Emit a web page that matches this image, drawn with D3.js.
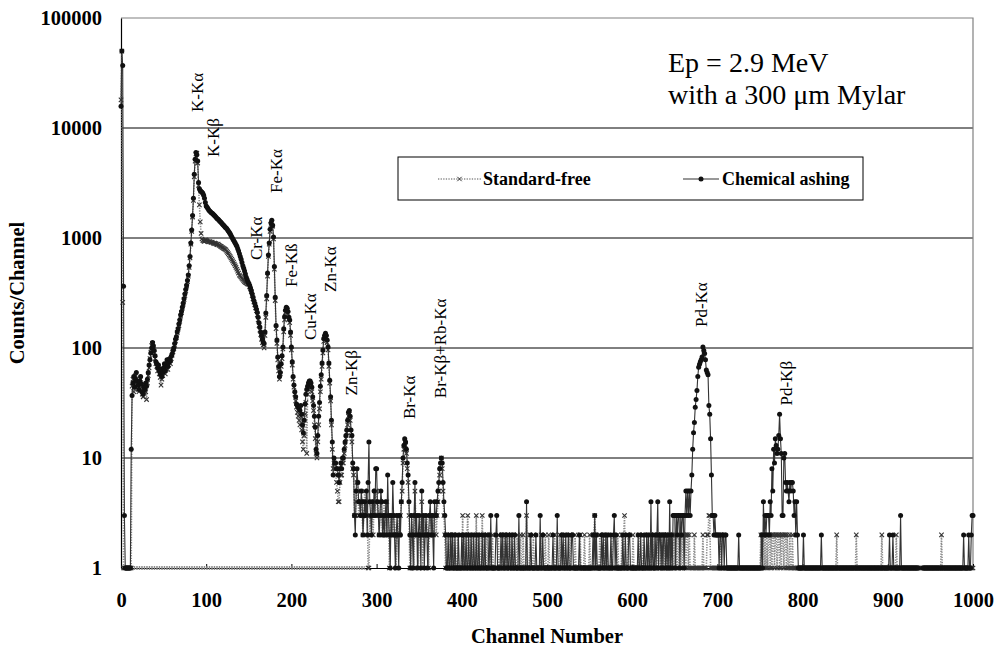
<!DOCTYPE html>
<html>
<head>
<meta charset="utf-8">
<script src="https://cdn.jsdelivr.net/npm/d3@7"></script>
<style>
  body { margin: 0; background: #fff; }
  svg, text { font-family: "Liberation Serif", "Times New Roman", serif; fill: #000; }
</style>
</head>
<body>
<div id="chart"></div>
<script>
// counts per channel, index = channel number (0 = not plotted on the log axis)
const chemAshing = [
  15800, 50000, 37000, 365, 3, 1, 1, 1, 1, 1,
  1, 1, 12, 37, 48, 55, 44, 52, 60, 50,
  46, 42, 50, 55, 47, 40, 38, 44, 42, 48,
  45, 52, 60, 70, 78, 90, 100, 112, 105, 95,
  85, 75, 72, 66, 70, 62, 58, 64, 55, 60,
  66, 72, 62, 70, 78, 68, 74, 80, 76, 84,
  88, 95, 100, 110, 120, 126, 140, 150, 165, 180,
  200, 215, 235, 255, 280, 310, 340, 370, 410, 460,
  560, 680, 900, 1180, 1600, 2300, 3800, 5200, 6000, 5700,
  5000, 3200, 2800, 2700, 2650, 2600, 2550, 2450, 2300, 2100,
  1950, 1900, 1850, 1800, 1760, 1730, 1700, 1680, 1650, 1620,
  1590, 1560, 1530, 1500, 1480, 1450, 1420, 1400, 1370, 1340,
  1310, 1290, 1260, 1240, 1220, 1190, 1160, 1130, 1100, 1060,
  1020, 990, 960, 930, 900, 870, 840, 800, 760, 720,
  680, 640, 600, 560, 530, 500, 470, 440, 420, 400,
  385, 370, 350, 330, 310, 290, 270, 255, 240, 225,
  210, 190, 170, 155, 140, 130, 120, 112, 110, 140,
  208, 300, 480, 700, 900, 1200, 1370, 1450, 1300, 1020,
  550, 290, 160, 118, 83, 68, 55, 60, 72, 85,
  102, 150, 192, 220, 235, 230, 215, 190, 180, 140,
  102, 75, 55, 46, 40, 36, 31, 30, 29, 28,
  27, 30, 25, 20, 17, 22, 31, 38, 42, 45,
  48, 50, 50, 48, 44, 36, 30, 24, 19, 12,
  11, 16, 24, 32, 45, 57, 73, 96, 122, 130,
  136, 130, 118, 102, 73, 51, 36, 22, 14, 7,
  10, 9, 9, 8, 8, 7, 6, 8, 9, 8,
  10, 10, 12, 14, 16, 18, 22, 26, 27, 24,
  18, 16, 9, 8, 3, 2, 5, 8, 6, 4,
  4, 3, 5, 4, 2, 3, 4, 3, 5, 2,
  6, 14, 4, 3, 2, 4, 3, 5, 3, 8,
  8, 4, 3, 2, 3, 5, 4, 2, 3, 2,
  3, 4, 2, 7, 3, 2, 1, 3, 2, 6,
  3, 2, 1, 2, 3, 2, 1, 3, 2, 4,
  6, 10, 13, 15, 14, 12, 9, 7, 4, 2,
  1, 3, 2, 1, 3, 6, 2, 3, 1, 2,
  3, 2, 1, 5, 2, 3, 1, 2, 3, 2,
  1, 2, 3, 4, 2, 3, 2, 1, 4, 3,
  3, 4, 5, 6, 8, 9, 10, 9, 6, 4,
  3, 2, 1, 1, 2, 1, 1, 2, 1, 2,
  1, 1, 2, 1, 1, 1, 2, 1, 1, 1,
  2, 1, 2, 1, 1, 2, 1, 1, 2, 1,
  1, 2, 1, 1, 2, 1, 1, 2, 1, 1,
  2, 1, 1, 1, 2, 1, 1, 2, 1, 1,
  1, 1, 2, 1, 3, 1, 1, 1, 1, 1,
  2, 3, 1, 1, 1, 1, 2, 1, 2, 1,
  1, 2, 1, 2, 1, 1, 2, 1, 1, 2,
  1, 1, 2, 1, 1, 1, 1, 3, 1, 1,
  1, 1, 1, 1, 1, 1, 4, 1, 1, 1,
  1, 2, 1, 1, 1, 1, 1, 2, 1, 1,
  1, 1, 3, 1, 1, 2, 1, 1, 1, 1,
  1, 1, 1, 1, 1, 1, 1, 2, 1, 1,
  1, 1, 3, 1, 1, 1, 1, 2, 1, 2,
  1, 1, 2, 1, 1, 2, 1, 1, 1, 2,
  2, 1, 1, 1, 1, 1, 1, 1, 2, 1,
  1, 1, 1, 1, 1, 1, 1, 1, 1, 1,
  1, 1, 1, 1, 2, 1, 3, 1, 2, 1,
  1, 1, 1, 1, 2, 1, 2, 1, 1, 2,
  1, 2, 1, 1, 1, 2, 1, 1, 2, 3,
  1, 2, 1, 1, 1, 1, 1, 1, 1, 2,
  1, 1, 2, 1, 1, 1, 2, 2, 1, 1,
  1, 1, 1, 1, 1, 1, 1, 2, 1, 1,
  2, 1, 1, 1, 2, 1, 1, 2, 1, 2,
  1, 1, 4, 1, 2, 1, 1, 2, 1, 2,
  4, 1, 2, 2, 1, 2, 1, 2, 2, 1,
  2, 1, 2, 1, 4, 1, 2, 1, 3, 3,
  3, 1, 3, 2, 3, 3, 1, 3, 2, 3,
  3, 1, 3, 5, 3, 5, 3, 5, 3, 5,
  7, 12, 17, 21, 29, 34, 41, 55, 67, 71,
  75, 78, 83, 102, 95, 89, 78, 63, 60, 57,
  30, 25, 15, 7, 3, 3, 2, 3, 2, 2,
  2, 2, 1, 2, 2, 1, 2, 2, 1, 2,
  2, 1, 1, 1, 1, 1, 1, 1, 1, 1,
  1, 1, 1, 1, 1, 2, 1, 1, 1, 1,
  1, 1, 1, 1, 1, 1, 1, 1, 1, 1,
  1, 1, 1, 1, 1, 1, 1, 1, 1, 1,
  1, 1, 2, 1, 4, 2, 3, 2, 3, 3,
  3, 2, 4, 3, 8, 5, 12, 9, 15, 13,
  11, 12, 16, 25, 15, 11, 3, 3, 10, 11,
  6, 5, 6, 5, 4, 6, 5, 6, 6, 5,
  3, 4, 2, 4, 2, 1, 1, 1, 1, 1,
  1, 2, 1, 1, 1, 1, 1, 1, 1, 1,
  1, 1, 1, 1, 1, 1, 1, 1, 1, 1,
  1, 1, 2, 1, 1, 1, 1, 1, 1, 1,
  1, 1, 1, 1, 1, 1, 1, 1, 1, 1,
  1, 1, 1, 1, 1, 1, 1, 1, 1, 1,
  1, 1, 1, 1, 1, 1, 1, 1, 1, 1,
  1, 1, 1, 1, 1, 1, 1, 1, 1, 1,
  1, 1, 1, 1, 1, 1, 1, 1, 1, 1,
  1, 1, 1, 1, 1, 1, 1, 1, 1, 1,
  1, 1, 1, 1, 1, 1, 1, 1, 1, 1,
  1, 1, 2, 1, 1, 1, 2, 1, 1, 1,
  1, 1, 1, 1, 1, 3, 1, 1, 1, 1,
  1, 1, 1, 1, 1, 1, 1, 1, 1, 1,
  1, 1, 1, 1, 1, 1, 1, 0, 0, 0,
  0, 1, 1, 1, 1, 1, 1, 1, 1, 1,
  1, 1, 1, 1, 1, 1, 1, 1, 1, 1,
  1, 1, 1, 1, 1, 1, 1, 1, 1, 1,
  1, 1, 1, 1, 1, 1, 1, 1, 1, 1,
  1, 1, 1, 1, 1, 1, 1, 1, 1, 2,
  1, 1, 1, 1, 1, 2, 1, 1, 2, 3,
  3
];

const standardFree = [
  18000, 50000, 260, 1, 1, 1, 1, 1, 1, 1,
  1, 1, 1, 45, 52, 40, 48, 56, 44, 50,
  42, 40, 48, 52, 44, 38, 36, 40, 46, 40,
  34, 48, 56, 66, 80, 92, 105, 110, 98, 90,
  80, 72, 68, 62, 66, 58, 54, 46, 52, 56,
  62, 68, 58, 64, 72, 64, 70, 78, 72, 80,
  86, 92, 98, 106, 116, 124, 138, 148, 160, 175,
  195, 210, 230, 250, 275, 300, 330, 365, 400, 450,
  540, 660, 880, 1150, 1550, 2200, 3600, 5000, 5800, 5900,
  4800, 3000, 2000, 1400, 1100, 980, 950, 940, 930, 960,
  950, 940, 930, 920, 930, 920, 910, 920, 900, 890,
  900, 890, 880, 870, 880, 860, 850, 840, 830, 820,
  810, 800, 790, 780, 760, 740, 720, 700, 680, 660,
  640, 620, 600, 580, 560, 540, 520, 500, 480, 460,
  450, 440, 430, 420, 410, 400, 395, 390, 385, 380,
  380, 360, 345, 325, 300, 280, 262, 248, 232, 218,
  200, 180, 160, 145, 132, 120, 112, 107, 100, 130,
  190, 280, 450, 680, 880, 1150, 1330, 1400, 1280, 980,
  520, 270, 150, 110, 78, 62, 52, 58, 68, 80,
  98, 140, 180, 210, 225, 220, 205, 185, 170, 130,
  96, 70, 52, 44, 38, 33, 29, 26, 24, 22,
  20, 24, 18, 14, 12, 16, 25, 32, 11, 38,
  42, 46, 48, 44, 40, 33, 27, 20, 15, 11,
  10, 14, 20, 28, 40, 52, 68, 90, 115, 125,
  130, 124, 112, 96, 68, 48, 33, 20, 12, 8,
  9, 8, 7, 6, 5, 4, 4, 6, 7, 7,
  9, 9, 11, 13, 15, 17, 20, 24, 25, 22,
  16, 14, 8, 7, 3, 3, 4, 6, 5, 3,
  3, 4, 4, 3, 2, 3, 5, 4, 3, 4,
  1, 1, 3, 2, 4, 3, 2, 4, 3, 5,
  5, 3, 4, 2, 3, 4, 3, 2, 3, 4,
  2, 3, 4, 2, 3, 1, 2, 3, 2, 3,
  2, 3, 2, 1, 2, 3, 2, 2, 3, 4,
  5, 9, 12, 14, 13, 11, 8, 6, 3, 1,
  1, 2, 3, 2, 1, 5, 3, 2, 2, 1,
  2, 3, 2, 4, 1, 2, 3, 2, 2, 3,
  2, 1, 2, 3, 3, 2, 3, 2, 3, 3,
  2, 3, 4, 5, 7, 8, 10, 8, 5, 3,
  2, 1, 2, 1, 1, 1, 2, 1, 1, 2,
  1, 2, 1, 1, 1, 2, 1, 1, 1, 1,
  1, 3, 1, 2, 1, 1, 2, 3, 1, 1,
  2, 1, 1, 2, 1, 1, 1, 3, 1, 2,
  1, 2, 1, 1, 3, 1, 2, 1, 2, 1,
  2, 1, 1, 2, 1, 1, 2, 1, 1, 1,
  1, 1, 1, 2, 1, 1, 1, 2, 1, 1,
  2, 1, 1, 1, 2, 1, 1, 1, 2, 1,
  1, 2, 1, 1, 1, 2, 1, 1, 1, 2,
  1, 1, 2, 1, 1, 1, 3, 1, 1, 1,
  2, 1, 1, 1, 2, 1, 1, 1, 1, 1,
  1, 1, 1, 2, 1, 1, 1, 1, 2, 1,
  1, 1, 2, 1, 1, 1, 1, 1, 1, 2,
  1, 1, 1, 1, 1, 2, 1, 1, 1, 1,
  1, 2, 1, 1, 1, 1, 1, 2, 1, 1,
  1, 1, 1, 2, 1, 1, 1, 1, 1, 2,
  1, 1, 1, 1, 2, 1, 1, 1, 1, 1,
  2, 1, 1, 1, 1, 2, 3, 2, 1, 1,
  1, 1, 2, 1, 1, 1, 1, 2, 1, 1,
  2, 1, 1, 1, 1, 1, 2, 1, 1, 1,
  1, 1, 1, 2, 1, 1, 1, 1, 2, 1,
  2, 3, 1, 1, 1, 2, 1, 1, 1, 1,
  1, 2, 1, 1, 1, 1, 1, 1, 2, 1,
  1, 1, 1, 2, 1, 1, 1, 1, 1, 2,
  1, 1, 2, 1, 1, 1, 2, 1, 1, 1,
  2, 1, 1, 1, 2, 1, 1, 2, 1, 1,
  1, 2, 1, 1, 2, 1, 1, 2, 1, 2,
  1, 2, 1, 1, 2, 1, 2, 1, 2, 1,
  2, 1, 2, 1, 2, 2, 1, 2, 1, 1,
  1, 1, 1, 2, 1, 1, 1, 1, 1, 1,
  1, 1, 1, 2, 1, 1, 1, 1, 2, 2,
  3, 3, 1, 1, 1, 1, 1, 1, 1, 1,
  1, 1, 1, 1, 2, 1, 1, 1, 1, 1,
  1, 1, 1, 1, 1, 1, 1, 1, 1, 1,
  1, 1, 1, 1, 1, 1, 1, 1, 1, 1,
  1, 1, 1, 1, 1, 1, 1, 1, 1, 1,
  1, 1, 1, 1, 1, 1, 1, 1, 1, 1,
  1, 2, 1, 2, 2, 1, 2, 1, 2, 1,
  2, 2, 1, 2, 1, 2, 2, 1, 2, 2,
  1, 2, 2, 1, 2, 1, 2, 2, 1, 2,
  2, 1, 2, 1, 1, 2, 1, 1, 2, 1,
  1, 1, 1, 1, 1, 1, 1, 1, 1, 1,
  1, 1, 1, 1, 1, 1, 1, 1, 1, 1,
  1, 1, 1, 1, 1, 1, 1, 1, 1, 1,
  1, 1, 1, 1, 1, 1, 1, 1, 1, 1,
  1, 1, 1, 1, 1, 1, 1, 1, 1, 1,
  2, 1, 1, 1, 1, 1, 1, 1, 1, 1,
  1, 1, 1, 1, 1, 1, 1, 1, 1, 1,
  1, 1, 1, 2, 1, 1, 1, 1, 1, 1,
  1, 1, 1, 1, 1, 1, 1, 1, 1, 1,
  1, 1, 1, 1, 1, 1, 1, 1, 1, 1,
  1, 1, 1, 2, 1, 1, 1, 1, 1, 1,
  1, 1, 1, 1, 1, 1, 1, 1, 1, 1,
  2, 1, 1, 1, 1, 1, 1, 1, 1, 1,
  1, 1, 1, 1, 1, 1, 1, 1, 1, 1,
  1, 1, 1, 1, 1, 1, 1, 0, 0, 0,
  0, 1, 1, 1, 1, 1, 1, 1, 1, 1,
  1, 1, 1, 1, 1, 1, 1, 1, 1, 1,
  1, 1, 1, 2, 1, 1, 1, 1, 1, 1,
  1, 1, 1, 1, 1, 1, 1, 1, 1, 1,
  1, 1, 1, 1, 1, 1, 1, 1, 1, 1,
  1, 1, 1, 1, 1, 1, 1, 1, 1, 1,
  1
];

// standard-free trace also runs along the 1-count floor between these channels
const stdFloorSpan = [12, 286];

// peak labels: text, channel, count where the label starts
const peakLabels = [
  ["K-Kα", 89, 14000],
  ["K-Kβ", 108, 5450],
  ["Cr-Kα", 158, 630],
  ["Fe-Kα", 182, 2570],
  ["Fe-Kß", 200, 359],
  ["Cu-Kα", 222, 118],
  ["Zn-Kα", 245, 323],
  ["Zn-Kβ", 270, 37],
  ["Br-Kα", 338, 22.6],
  ["Br-Kβ+Rb-Kα", 374, 35],
  ["Pd-Kα", 681, 155],
  ["Pd-Kβ", 780, 30]
];

const yTicks = [1, 10, 100, 1000, 10000, 100000];
const xTicks = [0, 100, 200, 300, 400, 500, 600, 700, 800, 900, 1000];
const seriesNames = ["Standard-free", "Chemical ashing"];
const noteLines = ["Ep = 2.9 MeV", "with a 300 μm Mylar"];

const serif = "'Liberation Serif', 'Times New Roman', serif";
const width = 998;
const height = 647;
const margin = {top: 18, right: 25, bottom: 79, left: 121};

const svg = d3.select("#chart").append("svg")
  .attr("width", width)
  .attr("height", height)
  .style("font-family", serif);

const x = d3.scaleLinear()
  .domain([0, 1000])
  .range([margin.left, width - margin.right]);

const y = d3.scaleLog()
  .domain([1, 100000])
  .range([height - margin.bottom, margin.top]);

// gridlines
svg.append("g")
  .selectAll("line")
  .data(yTicks.slice(1, -1))
  .join("line")
  .attr("x1", x(0)).attr("x2", x(1000))
  .attr("y1", d => y(d)).attr("y2", d => y(d))
  .attr("stroke", "#000")
  .attr("stroke-width", 1);

// frame top/right
svg.append("path")
  .attr("d", `M${x(0)},${y(100000)}H${x(1000)}V${y(1)}`)
  .attr("fill", "none")
  .attr("stroke", "#808080")
  .attr("stroke-width", 1.2);

// x axis
const xAxis = svg.append("g")
  .attr("transform", `translate(0,${y(1)})`)
  .call(d3.axisBottom(x).tickValues(xTicks).tickSizeInner(-4).tickSizeOuter(0).tickPadding(0).tickFormat(d3.format("d")));
xAxis.select(".domain").attr("stroke", "#000").attr("stroke-width", 1.2);
xAxis.selectAll(".tick line").attr("stroke", "#000");
xAxis.selectAll("text")
  .attr("y", 39)
  .attr("dy", null)
  .style("font-family", serif)
  .style("font-size", "20.5px")
  .style("font-weight", "bold")
  .attr("fill", "#000");

// y axis
const yAxis = svg.append("g")
  .attr("transform", `translate(${x(0)},0)`)
  .call(d3.axisLeft(y).tickValues(yTicks).tickSize(0).tickPadding(19).tickFormat(d3.format("d")));
yAxis.select(".domain").attr("stroke", "#000").attr("stroke-width", 1.2);
yAxis.selectAll("text")
  .style("font-family", serif)
  .style("font-size", "20.5px")
  .style("font-weight", "bold")
  .attr("fill", "#000");

// axis titles
svg.append("text")
  .attr("x", (x(0) + x(1000)) / 2)
  .attr("y", 643)
  .attr("text-anchor", "middle")
  .style("font-size", "20.5px")
  .style("font-weight", "bold")
  .text("Channel Number");

svg.append("text")
  .attr("transform", `translate(24,${(y(1) + y(100000)) / 2})rotate(-90)`)
  .attr("text-anchor", "middle")
  .style("font-size", "20.5px")
  .style("font-weight", "bold")
  .text("Counts/Channel");

// series
const pts = arr => arr.map((v, i) => [i, v]);
const line = d3.line()
  .defined(d => d[1] > 0)
  .x(d => x(d[0]))
  .y(d => y(d[1]));

const stdPts = pts(standardFree);
const chemPts = pts(chemAshing);

const plot = svg.append("g");

// standard-free floor run
plot.append("path")
  .attr("d", line(stdFloorSpan.map(c => [c, 1])))
  .attr("fill", "none")
  .attr("stroke", "#8a8a8a")
  .attr("stroke-width", 4)
  .attr("stroke-dasharray", "1.5,1");

plot.append("path")
  .attr("d", line(stdPts))
  .attr("fill", "none")
  .attr("stroke", "#8c8c8c")
  .attr("stroke-width", 1.6)
  .attr("stroke-dasharray", "1.3,1.3");

const xMark = s => `M${-s},${-s}L${s},${s}M${-s},${s}L${s},${-s}`;
plot.append("g")
  .selectAll("path")
  .data(stdPts.filter(d => d[1] > 0))
  .join("path")
  .attr("transform", d => `translate(${x(d[0])},${y(d[1])})`)
  .attr("d", xMark(2.2))
  .attr("stroke", "#333")
  .attr("stroke-width", 1.1);

plot.append("path")
  .attr("d", line(chemPts))
  .attr("fill", "none")
  .attr("stroke", "#333")
  .attr("stroke-width", 1.1);

plot.append("g")
  .selectAll("circle")
  .data(chemPts.filter(d => d[1] > 0))
  .join("circle")
  .attr("cx", d => x(d[0]))
  .attr("cy", d => y(d[1]))
  .attr("r", 2.5)
  .attr("fill", "#111");

// peak labels
svg.append("g")
  .selectAll("text")
  .data(peakLabels)
  .join("text")
  .attr("transform", d => `translate(${x(d[1])},${y(d[2])})rotate(-90)`)
  .attr("dy", "0.35em")
  .style("font-size", "17px")
  .text(d => d[0]);

// note
svg.append("g")
  .selectAll("text")
  .data(noteLines)
  .join("text")
  .attr("x", 668)
  .attr("y", (d, i) => 72 + i * 32)
  .style("font-size", "28px")
  .text(d => d);

// legend
const legend = svg.append("g");
legend.append("rect")
  .attr("x", 398).attr("y", 157)
  .attr("width", 465).attr("height", 43)
  .attr("fill", "#fff")
  .attr("stroke", "#000")
  .attr("stroke-width", 1);

const legStd = legend.append("g").attr("transform", "translate(438,179)");
legStd.append("line")
  .attr("x1", 0).attr("x2", 43)
  .attr("stroke", "#8c8c8c").attr("stroke-width", 1.6)
  .attr("stroke-dasharray", "1.3,1.3");
legStd.append("path")
  .attr("transform", "translate(21.5,0)")
  .attr("d", xMark(2.2))
  .attr("stroke", "#333");
legStd.append("text")
  .attr("x", 45).attr("y", 6)
  .style("font-size", "18px").style("font-weight", "bold")
  .text(seriesNames[0]);

const legChem = legend.append("g").attr("transform", "translate(683,179)");
legChem.append("line")
  .attr("x1", 0).attr("x2", 36)
  .attr("stroke", "#333").attr("stroke-width", 1.1);
legChem.append("circle")
  .attr("cx", 18).attr("r", 2.5).attr("fill", "#111");
legChem.append("text")
  .attr("x", 39).attr("y", 6)
  .style("font-size", "18px").style("font-weight", "bold")
  .text(seriesNames[1]);
</script>
</body>
</html>
